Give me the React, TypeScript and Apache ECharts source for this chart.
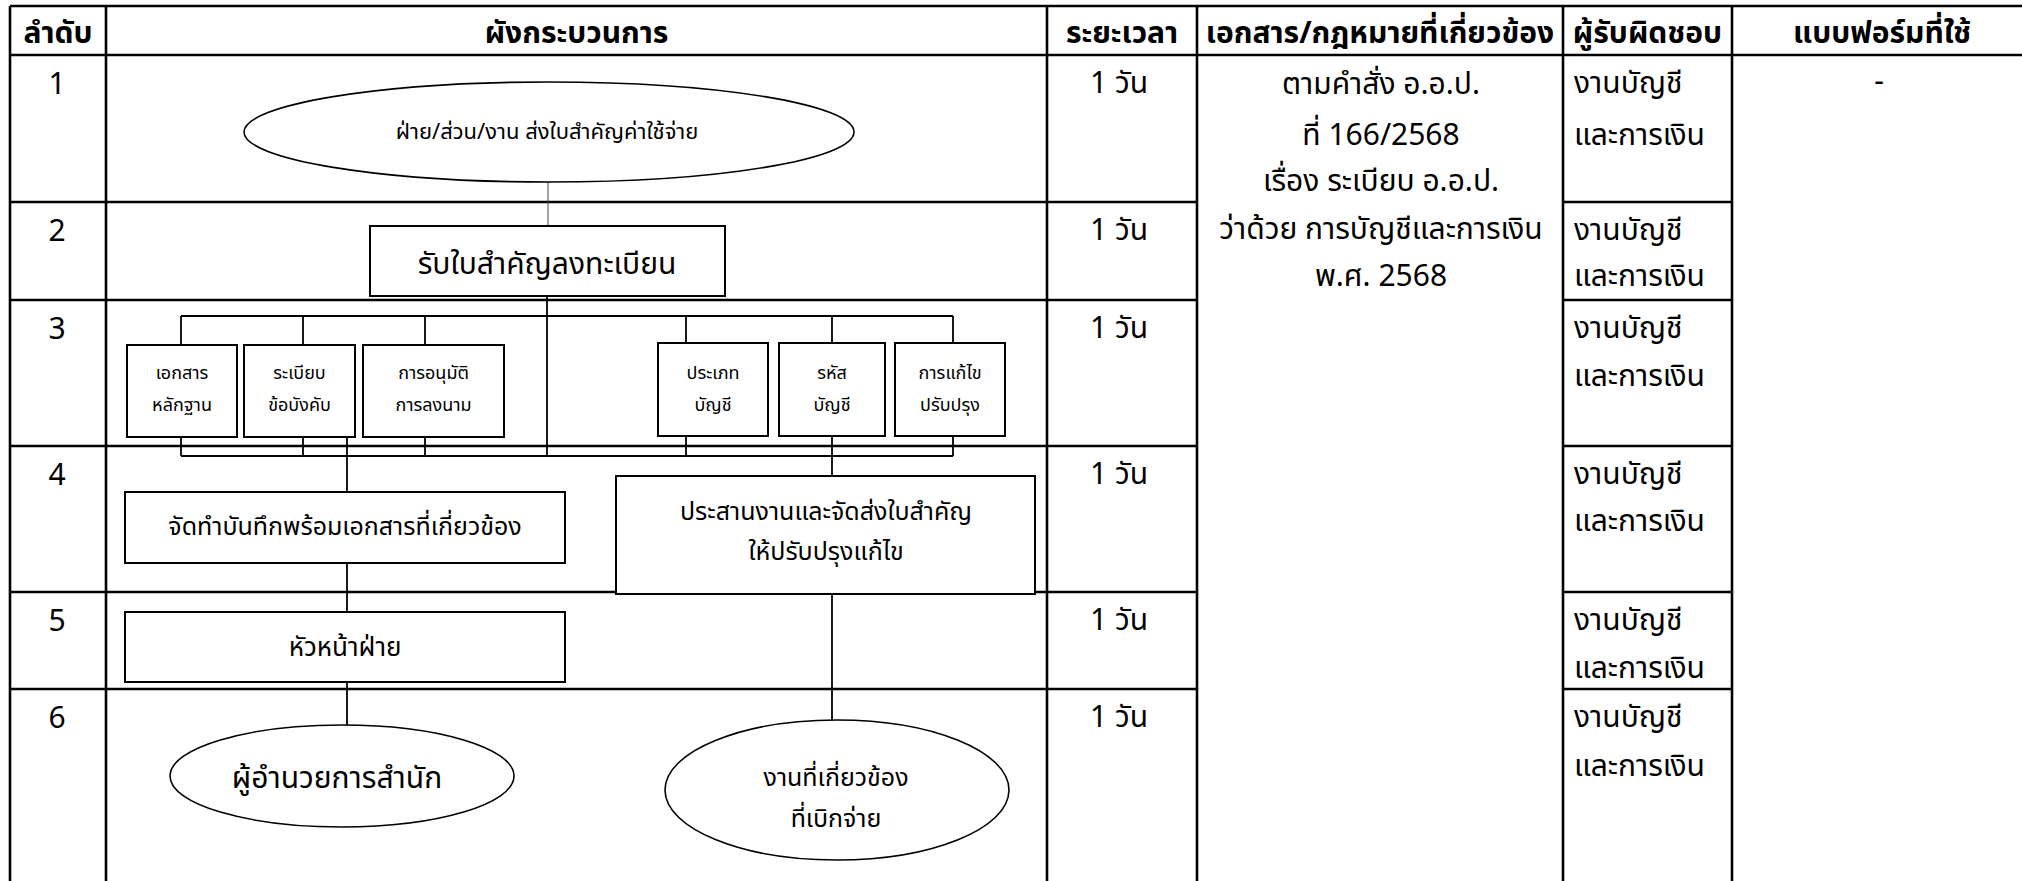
import React, { useEffect, useRef } from "react";
import * as echarts from "echarts";

// ---- data (texts only) ----
const headers = ["ลำดับ", "ผังกระบวนการ", "ระยะเวลา", "เอกสาร/กฎหมายที่เกี่ยวข้อง", "ผู้รับผิดชอบ", "แบบฟอร์มที่ใช้"];
const rowNumbers = ["1", "2", "3", "4", "5", "6"];
const durations = ["1 วัน", "1 วัน", "1 วัน", "1 วัน", "1 วัน", "1 วัน"];
const responsible = [
  ["งานบัญชี", "และการเงิน"],
  ["งานบัญชี", "และการเงิน"],
  ["งานบัญชี", "และการเงิน"],
  ["งานบัญชี", "และการเงิน"],
  ["งานบัญชี", "และการเงิน"],
  ["งานบัญชี", "และการเงิน"],
];
const docLines = ["ตามคำสั่ง อ.อ.ป.", "ที่ 166/2568", "เรื่อง ระเบียบ อ.อ.ป.", "ว่าด้วย การบัญชีและการเงิน", "พ.ศ. 2568"];
const formText = ["-"];
const startLabel = "ฝ่าย/ส่วน/งาน ส่งใบสำคัญค่าใช้จ่าย";
const registerLabel = "รับใบสำคัญลงทะเบียน";
const checkLabels = [
  ["เอกสาร", "หลักฐาน"],
  ["ระเบียบ", "ข้อบังคับ"],
  ["การอนุมัติ", "การลงนาม"],
  ["ประเภท", "บัญชี"],
  ["รหัส", "บัญชี"],
  ["การแก้ไข", "ปรับปรุง"],
];
const memoLabel = "จัดทำบันทึกพร้อมเอกสารที่เกี่ยวข้อง";
const returnLabel = ["ประสานงานและจัดส่งใบสำคัญ", "ให้ปรับปรุงแก้ไข"];
const headLabel = "หัวหน้าฝ่าย";
const directorLabel = "ผู้อำนวยการสำนัก";
const relatedLabel = ["งานที่เกี่ยวข้อง", "ที่เบิกจ่าย"];

// ---- layout ----
const FONT = "'TH Sarabun New', 'Noto Sans Thai', 'Noto Sans Thai Looped', 'Loma', 'Garuda', 'Noto Sans', sans-serif";
const colX = [10, 106, 1047, 1197, 1563, 1732, 2060];
const rowY = [6, 55, 202, 300, 446, 592, 689, 900];
const W = 2022;
const H = 881;
const BODY = 30;

function line(x1: number, y1: number, x2: number, y2: number, w = 2, color = "#000") {
  return { type: "line", shape: { x1, y1, x2, y2 }, style: { stroke: color, lineWidth: w }, z: 5 };
}
function text(t: string, x: number, y: number, size: number, align = "center", weight = "normal", z = 20) {
  return {
    type: "text",
    x,
    y,
    z,
    style: { text: t, fill: "#000", font: `${weight} ${size}px ${FONT}`, textAlign: align, textVerticalAlign: "middle" },
  };
}
function box(x1: number, y1: number, x2: number, y2: number, w = 2) {
  return { type: "rect", shape: { x: x1, y: y1, width: x2 - x1, height: y2 - y1 }, style: { fill: "#fff", stroke: "#000", lineWidth: w }, z: 10 };
}
function ellipse(cx: number, cy: number, rx: number, ry: number) {
  return { type: "ellipse", shape: { cx, cy, rx, ry }, style: { fill: "#fff", stroke: "#000", lineWidth: 1.6 }, z: 10 };
}

function buildElements() {
  const els: any[] = [];
  // table frame
  els.push(line(colX[0], rowY[0], W, rowY[0], 2.6));
  els.push(line(colX[0], rowY[1], W, rowY[1], 2.6));
  for (let i = 2; i < rowY.length - 1; i++) {
    els.push(line(colX[0], rowY[i], colX[3], rowY[i], 2.6));
    els.push(line(colX[4], rowY[i], colX[5], rowY[i], 2.6));
  }
  for (let c = 0; c < 6; c++) els.push(line(colX[c], rowY[0], colX[c], H, 2.6));

  // headers
  headers.forEach((h, i) => {
    els.push(text(h, (colX[i] + colX[i + 1]) / 2 + (i === 5 ? -14 : 0), 34, 30, "center", "bold"));
  });
  // row cells
  const second = [136, 277, 377, 522, 669, 767];
  rowNumbers.forEach((n, i) => {
    const top = rowY[i + 1];
    els.push(text(n, 57, top + 30, BODY));
    els.push(text(durations[i], (colX[2] + colX[3]) / 2 - 3, top + 29, BODY));
    els.push(text(responsible[i][0], 1574, top + 29, BODY, "left"));
    els.push(text(responsible[i][1], 1574, second[i], BODY, "left"));
  });
  const docY = [85, 136, 182, 230, 277];
  docLines.forEach((d, i) => els.push(text(d, (colX[3] + colX[4]) / 2 + 1, docY[i], BODY)));
  els.push(text(formText[0], 1879, 82, BODY));

  // ---- flowchart ----
  // start ellipse
  els.push(ellipse(549, 132, 305, 50));
  els.push(text(startLabel, 547, 132, 22));
  els.push(line(548, 182, 548, 226, 1, "#444"));
  // register box
  els.push(box(370, 226, 725, 296));
  els.push(text(registerLabel, 547, 265, 30));
  // trunk
  els.push(line(547, 296, 547, 456, 1.8));
  // buses
  const drops = [181, 303, 425, 686, 832, 953];
  els.push(line(181, 316, 953, 316, 1.8));
  els.push(line(181, 456, 953, 456, 1.8));
  const cb = [
    [127, 345, 237, 437],
    [244, 345, 355, 437],
    [363, 345, 504, 437],
    [658, 343, 768, 436],
    [779, 343, 885, 436],
    [895, 343, 1005, 436],
  ];
  drops.forEach((x, i) => {
    els.push(line(x, 316, x, cb[i][1], 1.8));
    els.push(line(x, cb[i][3], x, 456, 1.8));
  });
  cb.forEach((b, i) => {
    els.push(box(b[0], b[1], b[2], b[3]));
    const cx = (b[0] + b[2]) / 2;
    els.push(text(checkLabels[i][0], cx, 373, 18));
    els.push(text(checkLabels[i][1], cx, 405, 18));
  });
  // left branch
  els.push(line(347, 437, 347, 492, 1.8));
  els.push(box(125, 492, 565, 563));
  els.push(text(memoLabel, 345, 527, 25));
  els.push(line(347, 563, 347, 612, 1.8));
  els.push(box(125, 612, 565, 682));
  els.push(text(headLabel, 345, 648, 26));
  els.push(line(347, 682, 347, 725, 1.8));
  els.push(ellipse(342, 776, 172, 51));
  els.push(text(directorLabel, 337, 779, 30));
  // right branch
  els.push(line(832, 456, 832, 476, 1.8));
  els.push(box(616, 476, 1035, 594));
  els.push(text(returnLabel[0], 826, 512, 25));
  els.push(text(returnLabel[1], 826, 552, 25));
  els.push(line(832, 594, 832, 720, 1.8));
  els.push(ellipse(837, 790, 172, 70));
  els.push(text(relatedLabel[0], 836, 778, 25));
  els.push(text(relatedLabel[1], 836, 819, 25));
  return els;
}

export default function App() {
  const ref = useRef<HTMLDivElement>(null);
  useEffect(() => {
    if (!ref.current) return;
    const chart = echarts.init(ref.current, null, { renderer: "svg" });
    chart.setOption({
      animation: false,
      backgroundColor: "#fff",
      graphic: { elements: buildElements() },
    });
    return () => chart.dispose();
  }, []);
  return <div ref={ref} style={{ position: "fixed", left: 0, top: 0, width: W, height: H, background: "#fff" }} />;
}
